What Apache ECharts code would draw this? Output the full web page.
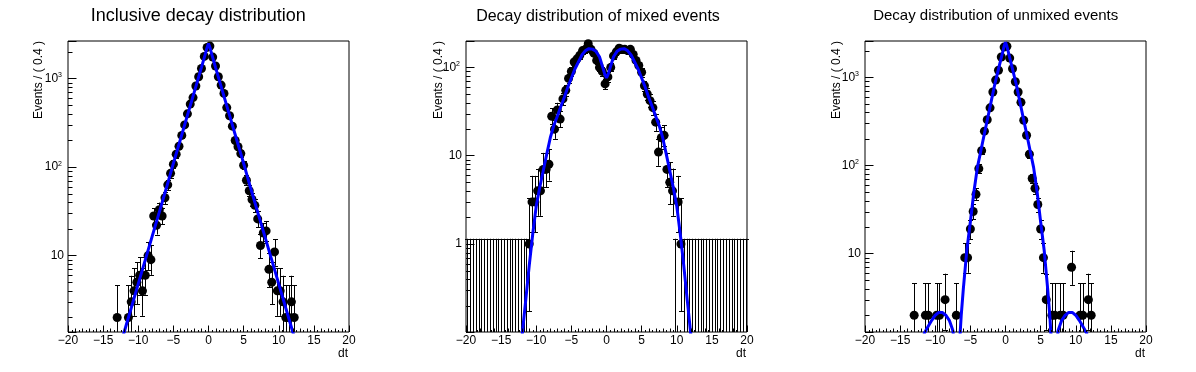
<!DOCTYPE html>
<html><head><meta charset="utf-8">
<script src="https://cdn.jsdelivr.net/npm/echarts@6/dist/echarts.min.js"></script>
<style>html,body{margin:0;padding:0;background:#fff}#c{width:1196px;height:372px}</style>
</head><body><div id="c"></div><script>
// ---- data ----
const binCenters = [
-19.8,-19.4,-19.0,-18.6,-18.2,-17.8,-17.4,-17.0,-16.6,-16.2,
-15.8,-15.4,-15.0,-14.6,-14.2,-13.8,-13.4,-13.0,-12.6,-12.2,
-11.8,-11.4,-11.0,-10.6,-10.2,-9.8,-9.4,-9.0,-8.6,-8.2,
-7.8,-7.4,-7.0,-6.6,-6.2,-5.8,-5.4,-5.0,-4.6,-4.2,
-3.8,-3.4,-3.0,-2.6,-2.2,-1.8,-1.4,-1.0,-0.6,-0.2,
0.2,0.6,1.0,1.4,1.8,2.2,2.6,3.0,3.4,3.8,
4.2,4.6,5.0,5.4,5.8,6.2,6.6,7.0,7.4,7.8,
8.2,8.6,9.0,9.4,9.8,10.2,10.6,11.0,11.4,11.8,
12.2,12.6,13.0,13.4,13.8,14.2,14.6,15.0,15.4,15.8,
16.2,16.6,17.0,17.4,17.8,18.2,18.6,19.0,19.4,19.8];

const inclusiveCounts = [
0,0,0,0,0,0,0,0,0,0,
0,0,0,0,0,0,0,2,0,0,
0,2,3,4,5,6,4,6,10,9,
28,22,33,28,45,63,85,108,140,172,
228,300,400,515,610,825,1050,1300,1780,2250,
2330,1750,1390,1050,845,680,470,380,290,200,
170,142,105,71,54,43,37,26,13,18,
19,7,5,11,4,4,3,2,2,3,
2,0,0,0,0,0,0,0,0,0,
0,0,0,0,0,0,0,0,0,0];

const mixedCounts = [
0,0,0,0,0,0,0,0,0,0,
0,0,0,0,0,0,0,0,0,0,
0,0,1,3,3,4,4,7,7,8,
28,20,33,26,44,55,75,90,115,125,
137,155,160,185,160,145,120,100,90,65,
78,100,135,150,165,160,160,155,160,140,
120,105,88,62,50,42,35,24,11,16,
17,7,5,4,0,3,1,0,0,0,
0,0,0,0,0,0,0,0,0,0,
0,0,0,0,0,0,0,0,0,0];

const unmixedCounts = [
0,0,0,0,0,0,0,0,0,0,
0,0,0,0,0,0,0,2,0,0,
0,2,2,0,0,2,2,0,3,0,
0,0,2,0,0,9,9,19,30,47,
92,147,245,330,450,680,930,1200,1700,2200,
2250,1650,1250,890,680,520,326,220,134,71,
55,36,19,9,3,0,2,2,0,2,
2,0,0,7,0,0,2,2,0,3,
2,0,0,0,0,0,0,0,0,0,
0,0,0,0,0,0,0,0,0,0];

const inclusiveFitT = [-20,-16,-14,-13,-12,-11,-10,-9,-8,-7,-6,-5,-4,-3,-2,-1,-0.5,-0.2,0,0.2,0.5,1,2,3,4,5,6,7,8,9,10,11,12,13,14,16,20];
const inclusiveFitV = [0.009,0.11,0.39,0.73,1.37,2.56,4.8,8.95,16.7,31,58,110,205,384,718,1340,1840,2250,2500,2250,1840,1340,718,384,205,110,58,31,16.7,8.95,4.8,2.56,1.37,0.73,0.39,0.11,0.009];

const mixedFitT = [-20,-14,-13,-12.5,-12,-11.5,-11,-10.5,-10,-9.5,-9,-8.5,-8,-7.5,-7,-6.5,-6,-5.5,-5,-4.5,-4,-3.5,-3,-2.5,-2,-1.5,-1,-0.5,-0.25,0,0.25,0.5,1,1.5,2,2.5,3,3.5,4,4.5,5,5.5,6,6.5,7,7.5,8,8.5,9,9.5,10,10.5,11,11.5,12,12.5,13,14,20];
const mixedFitV = [0.0001,0.001,0.008,0.03,0.095,0.23,0.57,1.3,2.7,4.4,6.8,10.5,16,22,28,36,46,60,76,96,115,138,155,163,161,152,132,98,84,76,84,98,132,152,161,163,155,138,115,96,76,60,46,36,28,22,16,10.5,6.8,4.4,2.7,1.3,0.57,0.23,0.095,0.03,0.008,0.001,0.0001];

const unmixedFitT = [-20,-16,-14,-13,-12,-11.5,-11,-10.5,-10,-9.5,-9,-8.5,-8,-7.5,-7.3,-7.1,-6.9,-6.7,-6.5,-6.3,-6,-5.5,-5,-4.5,-4,-3.5,-3,-2.5,-2,-1.5,-1,-0.5,-0.2,0,0.2,0.5,1,1.5,2,2.5,3,3.5,4,4.5,5,5.5,6,6.3,6.5,6.7,6.9,7.1,7.3,7.5,8,8.5,9,9.5,10,10.5,11,11.5,12,13,14,16,20];
const unmixedFitV = [0.002,0.05,0.3,0.55,1.0,1.27,1.5,1.75,2.0,2.15,2.15,2.0,1.75,1.35,1.0,0.4,0.05,0.35,1.1,2,4,11,23,50,95,148,230,355,550,850,1240,1800,2250,2500,2250,1800,1240,850,550,355,230,148,95,50,23,11,4,2,1.1,0.35,0.05,0.4,1.0,1.35,1.75,2.0,2.15,2.15,2.0,1.75,1.5,1.27,1.0,0.55,0.3,0.05,0.002];

const panelTitles = ['Inclusive decay distribution', 'Decay distribution of mixed events', 'Decay distribution of unmixed events'];
const yAxisTitle = 'Events / ( 0.4 )';
const xAxisTitle = 'dt';
const xTickLabels = [-20,-15,-10,-5,0,5,10,15,20];

// Garwood 68.27% Poisson intervals (empty bins: one-sided)
const poissonLo = [0,0.173,0.708,1.367,2.086,2.840,3.620,4.419,5.232,6.057,6.891];
const poissonHi = [1.148,3.300,4.638,5.918,7.163,8.382,9.584,10.77,11.95,13.11,14.27];

// ---- layout / style ----
const FONT = '"Liberation Sans", Arial, Helvetica, sans-serif';
const panels = [
  {left:68, top:41, width:281, height:291, ymin:1.37, ymax:2660, titleSize:18, titleX:198.3, titleY:16, yTitleX:38.6},
  {left:466, top:41, width:281, height:291, ymin:0.101, ymax:199, titleSize:16, titleX:598, titleY:16.5, yTitleX:438.3},
  {left:865, top:41, width:281, height:291, ymin:1.29, ymax:2580, titleSize:15, titleX:995.7, titleY:16, yTitleX:836.8}
];
const countsList = [inclusiveCounts, mixedCounts, unmixedCounts];
const fitList = [[inclusiveFitT, inclusiveFitV],[mixedFitT, mixedFitV],[unmixedFitT, unmixedFitV]];

function interval(n) {
  if (n <= 10) return [poissonLo[n], poissonHi[n]];
  return [n - Math.sqrt(n), n + Math.sqrt(n) + 1];
}

function renderErrors(params, api) {
  const cs = params.coordSys;
  const top = cs.y, bot = cs.y + cs.height;
  const x = api.value(0), lo = api.value(1), hi = api.value(2);
  const pHi = api.coord([x, hi]);
  const yHi = pHi[1];
  if (!(yHi < bot)) return null;
  const yLo = lo > 0 ? api.coord([x, lo])[1] : bot + 50;
  const xs = Math.round(pHi[0]) + 0.5;
  const st = {stroke:'#000', lineWidth:1};
  const ch = [];
  ch.push({type:'line', shape:{x1:xs, y1:Math.min(yLo, bot), x2:xs, y2:Math.max(yHi, top)}, style:st});
  if (yHi >= top) { const y = Math.round(yHi)+0.5; ch.push({type:'line', shape:{x1:xs-2.5, y1:y, x2:xs+2.5, y2:y}, style:st}); }
  if (yLo <= bot) { const y = Math.round(yLo)+0.5; ch.push({type:'line', shape:{x1:xs-2.5, y1:y, x2:xs+2.5, y2:y}, style:st}); }
  return {type:'group', children:ch};
}

function renderTicks(params, api) {
  const cs = params.coordSys;
  const p = api.coord([api.value(0), api.value(1)]);
  const len = api.value(2), kind = api.value(3);
  const st = {stroke:'#000', lineWidth:1};
  if (kind === 0) {
    const x = Math.round(p[0]) + 0.5, b = cs.y + cs.height;
    return {type:'line', shape:{x1:x, y1:b, x2:x, y2:b - len}, style:st};
  }
  const y = Math.round(p[1]) + 0.5;
  return {type:'line', shape:{x1:cs.x, y1:y, x2:cs.x + len, y2:y}, style:st};
}

const grids = [], xAxes = [], yAxes = [], series = [], graphics = [];
panels.forEach((P, i) => {
  grids.push({left:P.left, top:P.top, width:P.width, height:P.height, show:true, borderColor:'#000', borderWidth:1, backgroundColor:'#fff', containLabel:false, outerBoundsMode:'none'});
  xAxes.push({type:'value', gridIndex:i, min:-20, max:20, interval:5, position:'bottom',
    axisLine:{show:false, onZero:false}, splitLine:{show:false},
    axisTick:{show:true, inside:true, length:6.5, lineStyle:{color:'#000', width:1}},
    axisLabel:{show:true, color:'#000', fontFamily:FONT, fontSize:12, margin:3,
      formatter: v => xTickLabels.indexOf(v) < 0 ? '' : (v < 0 ? '\u2212' + (-v) : String(v))}});
  yAxes.push({type:'log', logBase:10, gridIndex:i, min:P.ymin, max:P.ymax, position:'left',
    axisLine:{show:false, onZero:false}, splitLine:{show:false},
    axisTick:{show:true, inside:true, length:8.5, lineStyle:{color:'#000', width:1}},
    axisLabel:{show:true, color:'#000', fontFamily:FONT, margin:4,
      formatter: v => {
        const l = Math.log10(v), e = Math.round(l);
        if (Math.abs(l - e) > 1e-6) return '';
        if (e === 0) return '{m|1}';
        if (e === 1) return '{m|10}';
        return '{m|10}{s|' + e + '}';
      },
      rich:{ m:{fontSize:12, fontFamily:FONT, color:'#000', lineHeight:14, verticalAlign:'middle'},
             s:{fontSize:7, fontFamily:FONT, color:'#000', lineHeight:14, verticalAlign:'top', padding:[0,2,0,0]} }}});

  const counts = countsList[i];
  const errData = binCenters.map((c, k) => { const iv = interval(counts[k]); return [c, iv[0], iv[1]]; });
  series.push({type:'custom', xAxisIndex:i, yAxisIndex:i, renderItem:renderErrors, data:errData, z:2, silent:true});
  const pts = [];
  binCenters.forEach((c, k) => { if (counts[k] > 0) pts.push([c, counts[k]]); });
  series.push({type:'scatter', xAxisIndex:i, yAxisIndex:i, data:pts, symbol:'circle', symbolSize:9,
    itemStyle:{color:'#000', opacity:1, borderWidth:0}, z:3, silent:true});
  const ft = fitList[i][0], fv = fitList[i][1];
  series.push({type:'line', xAxisIndex:i, yAxisIndex:i, data:ft.map((t, k) => [t, fv[k]]), showSymbol:false, symbol:'none',
    lineStyle:{color:'#0000ff', width:3, opacity:1}, clip:true, z:4, silent:true});

  // minor ticks (ROOT style)
  const tk = [];
  for (let h = -40; h <= 40; h++) {
    const v = h / 2;
    if (h % 10 === 0) continue;
    tk.push([v, P.ymin, (h % 2 === 0) ? 3.5 : 2, 0]);
  }
  for (let d = -2; d <= 4; d++) {
    for (let m = 2; m <= 9; m++) {
      const v = m * Math.pow(10, d);
      if (v > P.ymin && v < P.ymax) tk.push([-20, v, 4.5, 1]);
    }
  }
  series.push({type:'custom', xAxisIndex:i, yAxisIndex:i, renderItem:renderTicks, data:tk, z:5, silent:true});

  graphics.push({type:'text', x:P.titleX, y:P.titleY, style:{text:panelTitles[i], fill:'#000', font:P.titleSize + 'px ' + FONT, align:'center', verticalAlign:'middle'}});
  graphics.push({type:'text', x:P.yTitleX, y:P.top, rotation:Math.PI/2, style:{text:yAxisTitle, fill:'#000', font:'12px ' + FONT, align:'right', verticalAlign:'middle'}});
  graphics.push({type:'text', x:P.left + P.width - 1, y:353.3, style:{text:xAxisTitle, fill:'#000', font:'12px ' + FONT, align:'right', verticalAlign:'middle'}});
});

const chart = echarts.init(document.getElementById('c'), null, {renderer:'canvas', width:1196, height:372});
chart.setOption({animation:false, backgroundColor:'#fff', grid:grids, xAxis:xAxes, yAxis:yAxes, series:series, graphic:graphics});
</script></body></html>
